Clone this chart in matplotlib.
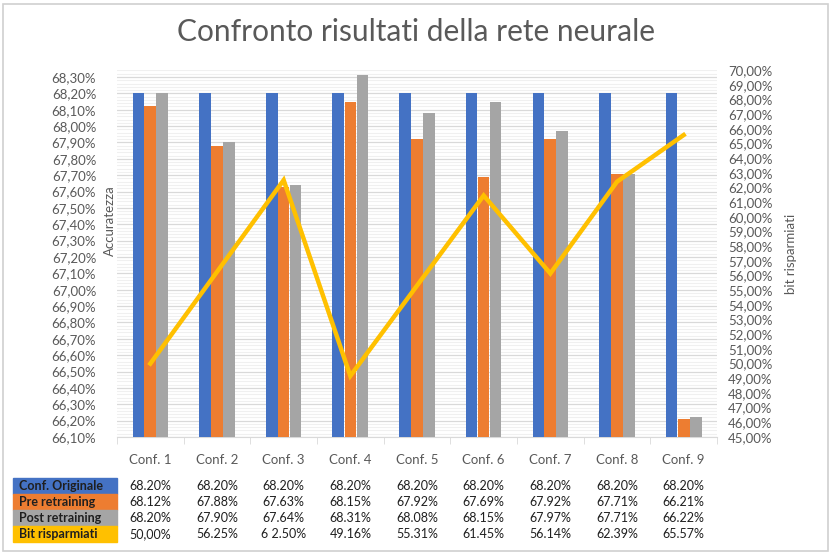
import numpy as np
import matplotlib
matplotlib.use("Agg")
import matplotlib.pyplot as plt
import matplotlib.ticker as mticker
from matplotlib.patches import Rectangle, FancyBboxPatch

plt.rcParams['font.family'] = ['Lato', 'DejaVu Sans']

# dati
categorie = ["Conf. 1", "Conf. 2", "Conf. 3", "Conf. 4", "Conf. 5",
             "Conf. 6", "Conf. 7", "Conf. 8", "Conf. 9"]
originale = [68.20, 68.20, 68.20, 68.20, 68.20, 68.20, 68.20, 68.20, 68.20]
pre_retraining = [68.12, 67.88, 67.63, 68.15, 67.92, 67.69, 67.92, 67.71, 66.21]
post_retraining = [68.20, 67.90, 67.64, 68.31, 68.08, 68.15, 67.97, 67.71, 66.22]
bit_risparmiati = [50.00, 56.25, 62.50, 49.16, 55.31, 61.45, 56.14, 62.39, 65.57]

serie_nomi = ["Conf. Originale", "Pre retraining", "Post retraining", "Bit risparmiati"]
tabella_testi = [
    ["68.20%"] * 9,
    ["68.12%", "67.88%", "67.63%", "68.15%", "67.92%", "67.69%", "67.92%", "67.71%", "66.21%"],
    ["68.20%", "67.90%", "67.64%", "68.31%", "68.08%", "68.15%", "67.97%", "67.71%", "66.22%"],
    ["50,00%", "56.25%", "6 2.50%", "49.16%", "55.31%", "61.45%", "56.14%", "62.39%", "65.57%"],
]

colori = ["#4472C4", "#ED7D31", "#A5A5A5", "#FFC000"]
grigio_testo = "#595959"

fig = plt.figure(figsize=(8.33, 5.54), dpi=100)
ax = fig.add_axes([117 / 833, 1 - 437 / 554, 600 / 833, 367 / 554])

x = np.arange(len(categorie))
w = 0.175
ax.bar(x - 0.18, originale, w, color=colori[0], zorder=3)
ax.bar(x, pre_retraining, w, color=colori[1], zorder=3)
ax.bar(x + 0.18, post_retraining, w, color=colori[2], zorder=3)

ax.set_xlim(-0.5, len(categorie) - 0.5)
ax.set_ylim(66.10, 68.343)
ax.yaxis.set_major_locator(mticker.MultipleLocator(0.1))
ax.yaxis.set_minor_locator(mticker.MultipleLocator(0.02))
ax.yaxis.set_major_formatter(mticker.FuncFormatter(lambda v, p: f"{v:.2f}%".replace(".", ",")))
ax.grid(axis="y", which="major", color="#D9D9D9", lw=0.9, zorder=0)
ax.grid(axis="y", which="minor", color="#F0F0F0", lw=0.8, zorder=0)
ax.set_axisbelow(True)
for s in ["top", "left", "right"]:
    ax.spines[s].set_visible(False)
ax.spines["bottom"].set_color("#D9D9D9")
ax.tick_params(axis="y", which="both", length=0, labelsize=9.5, labelcolor=grigio_testo, pad=15)
ax.set_xticks(x)
ax.set_xticklabels(categorie)
ax.tick_params(axis="x", length=0, labelsize=9.5, labelcolor=grigio_testo, pad=12)
ax.set_xticks(np.arange(-0.5, len(categorie)), minor=True)
ax.tick_params(axis="x", which="minor", length=5, color="#D9D9D9")
ax.text(-7 / 600, 0.59, "Accuratezza", transform=ax.transAxes, rotation=90,
        ha="center", va="center", fontsize=9.5, color=grigio_testo)

ax2 = ax.twinx()
ax2.plot(x, bit_risparmiati, color=colori[3], lw=3.2, zorder=4, solid_joinstyle="miter")
ax2.set_ylim(45, 70)
ax2.yaxis.set_major_locator(mticker.MultipleLocator(1))
ax2.yaxis.set_major_formatter(mticker.FuncFormatter(lambda v, p: f"{v:.2f}%".replace(".", ",")))
for s in ["top", "left", "right", "bottom"]:
    ax2.spines[s].set_visible(False)
ax2.tick_params(axis="y", length=0, labelsize=9.5, labelcolor=grigio_testo, pad=8)
ax2.set_ylabel("bit risparmiati", fontsize=9.5, color=grigio_testo, labelpad=9)

fig.text(416 / 833, 1 - 32 / 554, "Confronto risultati della rete neurale",
         ha="center", va="center", fontsize=21.5, color=grigio_testo)

# tabella dati sotto il grafico
righe_y = [486, 502, 518, 534]
for i, nome in enumerate(serie_nomi):
    yc = righe_y[i]
    fig.patches.append(Rectangle((13 / 833, 1 - (yc + 8) / 554), 104 / 833, 16 / 554,
                                 transform=fig.transFigure, color=colori[i], zorder=1))
    fig.text(19 / 833, 1 - yc / 554, nome, ha="left", va="center", fontsize=9,
             fontweight="bold", color="#1F1F1F")
    for j, t in enumerate(tabella_testi[i]):
        xf = ax.transData.transform((x[j], 0))[0] / fig.bbox.width
        fig.text(xf, 1 - yc / 554, t, ha="center", va="center", fontsize=9, color="#1F1F1F")

fig.patches.append(FancyBboxPatch((3 / 833, 3 / 554), 825 / 833, 547 / 554,
                                  boxstyle="square,pad=0", transform=fig.transFigure,
                                  fill=False, edgecolor="#D0D0D0", lw=1.2))

fig.savefig("out.png", dpi=100)
